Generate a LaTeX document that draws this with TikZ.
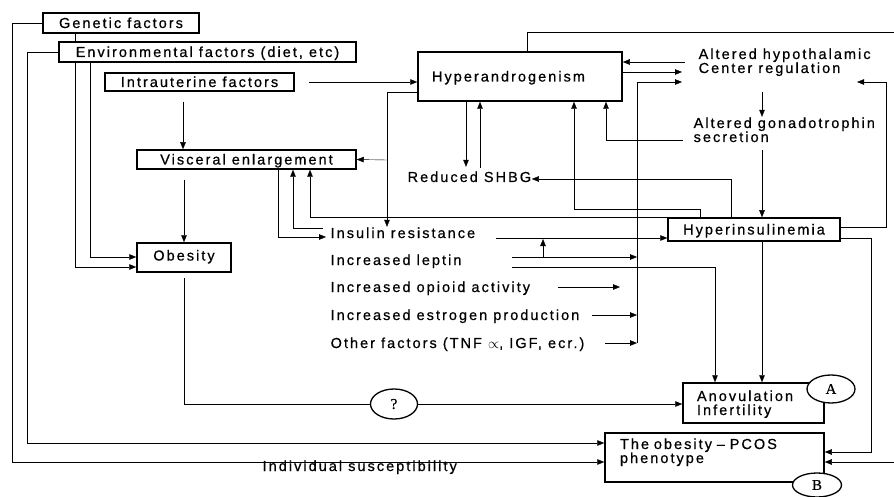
\documentclass[tikz,border=0pt]{standalone}
\usepackage{fontspec}
\setmainfont[LetterSpace=14,FakeBold=0.6]{Liberation Sans}
\newfontfamily\circfont[FakeBold=0.6]{Liberation Serif}
\usetikzlibrary{arrows.meta,calc,shapes.geometric}
\pgfdeclarelayer{background}
\pgfsetlayers{background,main}
\newcommand\diagfont{\fontsize{14.5}{14}\selectfont}
\begin{document}
\begin{tikzpicture}[x=1pt,y=-1pt,line width=1.3pt,
  box/.style={draw,fill=white,line width=1.5pt,inner sep=0pt,font=\diagfont,text height=10pt,text depth=0pt},
  txt/.style={inner sep=0pt,anchor=base west,font=\diagfont,align=left},
  ell/.style={ellipse,draw,fill=white,line width=1.3pt,inner sep=0pt,font=\circfont\fontsize{15}{15}\selectfont},
  arr/.style={-{Triangle[length=7pt,width=5.5pt]}}]
\useasboundingbox (0,0) rectangle (894,497);
% boxes
\node[box,minimum width=156,minimum height=20] (gen) at (121,23) {Genetic factors};
\node[box,minimum width=297,minimum height=20] (env) at (207.5,52) {Environmental factors (diet, etc)};
\node[box,minimum width=189,minimum height=18] (intra) at (199.5,82) {Intrauterine factors};
\node[box,minimum width=219,minimum height=19] (visc) at (246.5,159.5) {Visceral enlargement};
\node[box,minimum width=94,minimum height=29,text depth=4pt] (obes) at (184,257.5) {Obesity};
\node[box,minimum width=204,minimum height=49,text width=176,align=left] (hyper) at (520,76.5) {Hyperandrogenism};
\node[box,minimum width=172,minimum height=23] (hins) at (754,229.5) {Hyperinsulinemia};
\node[box,minimum width=141,minimum height=40,text width=113,align=left,text depth=14pt] (anov) at (753.5,403) {Anovulation\\Infertility};
\node[box,minimum width=219,minimum height=49,text width=189,align=left,text depth=27pt] (phen) at (714.5,457.5) {The obesity – PCOS\\phenotype};
% free texts
\node[txt] (ahc) at (698,73) {Altered hypothalamic\\Center regulation};
\node[txt] (agse) at (693,142) {Altered gonadotrophin\\secretion};
\node[txt] (shbg) at (407,182) {Reduced SHBG};
\node[txt] (ir) at (330,238) {Insulin resistance};
\node[txt] (lep) at (330,265) {Increased leptin};
\node[txt] (opi) at (330,292) {Increased opioid activity};
\node[txt] (est) at (330,320) {Increased estrogen production};
\node[txt] (oth) at (330,348) {Other factors (TNF $\propto$, IGF, ecr.)};
\node[txt] (ind) at (262,471) {Individual susceptibility};
% ellipses
\node[ell,minimum width=47,minimum height=30] (q) at (394,404) {?};
\node[ell,minimum width=48,minimum height=28] (cA) at (831,389) {A};
\node[ell,minimum width=49,minimum height=24] (cB) at (817,485) {B};
% ports
\coordinate (agsL) at (683,140);
\coordinate (ahcL1) at (685,62);
\coordinate (ahcL2) at (682,72);
\coordinate (ahcL3) at (682,82);
\coordinate (ahcR) at (857,82);
\coordinate (ahcB) at (762,92);
\coordinate (lepA) at (512,257);
\coordinate (lepB) at (512,267);
\coordinate (opiA) at (558,287);
\coordinate (opiB) at (620,287);
\coordinate (estA) at (592,315);
\coordinate (othA) at (605,343);
\coordinate (irA) at (496,238);
\coordinate (irL) at (326,237);
\coordinate (irL2) at (323,228);
\begin{pgfonlayer}{background}
\fill[white] (0,0) rectangle (894,497);
\draw[arr] (gen.west) -- (12,23) |- (phen.west |- 0,462);
\draw[arr] (env.west) -- (27,52) |- (phen.west |- 0,443);
\draw[arr] (gen.south -| 75,0) -- (75,267) -- (obes.west |- 0,267);
\draw[arr] (env.south -| 90,0) -- (90,257) -- (obes.west |- 0,257);
\draw[arr] ($(intra.east)+(14,0)$) -- (hyper.west |- intra.east);
\draw[arr] ($(intra.south -| 183,0)+(0,10)$) -- (visc.north -| 183,0);
\draw[arr] ($(visc.south -| obes.north)+(0,10)$) -- (obes.north);
\draw ($(obes.south)+(0,5)$) |- (q.west);
\draw[arr] (q.east) -- (anov.west |- q.east);
\draw[arr] (hyper.west |- 0,92) -- (387,92) -- (ir.north -| 387,0);
\draw[arr] (387,160) -- (visc.east);
\draw[arr] (hyper.south -| 466,0) -- ($(shbg.north -| 466,0)+(0,-4)$);
\draw[arr] ($(shbg.north -| 480,0)+(0,-3)$) -- (hyper.south -| 480,0);
\draw[arr] (hins.north -| 700,0) -- (700,209) -| (hyper.south -| 574,0);
\draw[arr] (agsL) -| (hyper.south -| 606,0);
\draw[arr] (ahcL1) -- (hyper.east |- ahcL1);
\draw[arr] (hyper.east |- ahcL2) -- (ahcL2);
\draw[arr] (637,343) -- (637,82) -- (ahcL3);
\draw[arr] (lepA) -- (637,257);
\draw[arr] (estA) -- (637,315);
\draw[arr] (othA) -- (637,343);
\draw[arr] (opiA) -- (opiB);
\draw[arr] (543,257) -- (543,239);
\draw[arr] (irA) -- (hins.west |- irA);
\draw[arr] (lepB) -| (anov.north -| 715,0);
\draw[arr] (hins.south -| 762,0) -- (anov.north -| 762,0);
\draw[arr] (hins.east |- 0,238) -- (871,238) |- (phen.east |- 0,452);
\draw[arr] (hins.east |- 0,227) -- (886,227) -- (886,82) -- (ahcR);
\draw[arr] (hyper.north -| 527,0) -- (527,32) -- (905,32) |- (phen.east |- 0,462);
\draw[arr] (hins.north -| 731,0) |- (shbg.east |- 0,179);
\draw[arr] (ahcB) -- (agse.north -| 762,0);
\draw[arr] ($(agse.south -| 762,0)+(0,7)$) -- (hins.north -| 762,0);
\draw[arr] (visc.south -| 278,0) |- (irL);
\draw[arr] (irL2) -| (visc.south -| 293,0);
\draw[arr] (hins.north west) -| (visc.south -| 310,0);
\end{pgfonlayer}
\end{tikzpicture}
\end{document}
